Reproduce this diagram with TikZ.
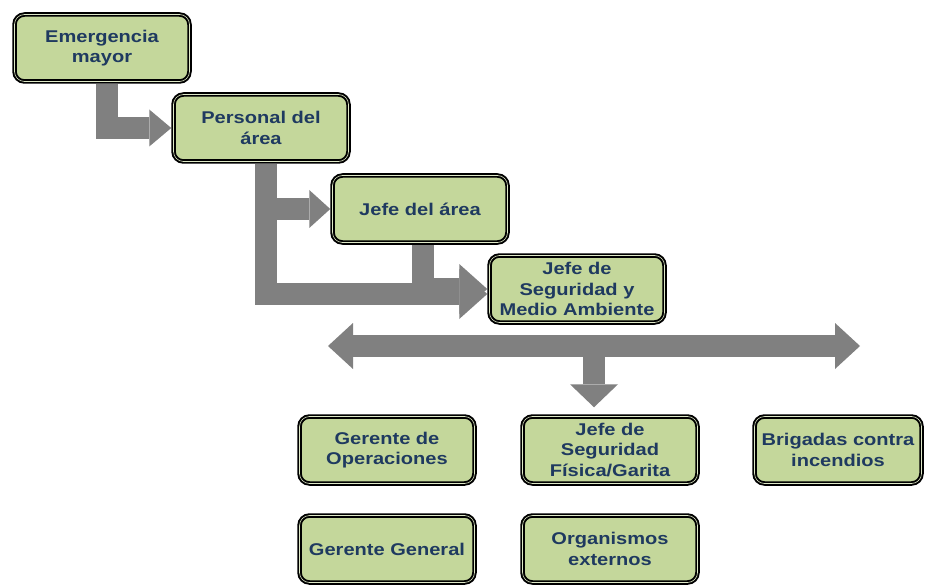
\documentclass[tikz,border=0pt]{standalone}
\usepackage{fontspec}
\setmainfont{Liberation Sans}
\newfontfamily\boxfont[FakeStretch=1.18]{Liberation Sans}
\usetikzlibrary{arrows.meta,calc,backgrounds}
\definecolor{boxfill}{HTML}{C4D79B}
\definecolor{boxtext}{HTML}{1F3A60}
\definecolor{arrgray}{HTML}{808080}
\tikzset{
  box/.style={rounded corners=10pt, fill=boxfill, draw=black, line width=4.5pt,
    minimum width=175pt, minimum height=67pt, align=center, text=boxtext,
    font=\boxfont\fontsize{17}{20.5}\selectfont\bfseries, inner sep=2pt,
    postaction={draw=boxfill!55!white, line width=0.6pt}},
  barrow/.style={draw=arrgray, line width=22pt, line join=miter},
}
\begin{document}
\begin{tikzpicture}[x=1pt,y=-1pt]
\useasboundingbox (0,0) rectangle (925,585);
\node[box] (em) at (102,48) {Emergencia\\mayor};
\node[box] (pers) at (261,128) {Personal del\\área};
\node[box] (jda) at (420,209) {Jefe del área};
\node[box] (jsma) at (577,289) {Jefe de\\Seguridad y\\Medio Ambiente};
\node[box] (gop) at (387,450) {Gerente de\\Operaciones};
\node[box] (jsf) at (610,450) {Jefe de\\Seguridad\\Física/Garita};
\node[box, minimum width=167pt] (brig) at (838,450) {Brigadas contra\\incendios};
\node[box] (gg) at (387,549) {Gerente General};
\node[box] (org) at (610,549) {Organismos\\externos};
\coordinate (dl) at (328,346);
\coordinate (dr) at (860,346);
\coordinate (dm) at (594,346);
\begin{scope}[on background layer]
\fill[white] (0,0) rectangle (925,585);
\draw[barrow, -{Triangle[width=37pt,length=22pt,line width=0pt]}] ($(em.south)+(5,0)$) |- (pers.west);
\draw[barrow, -{Triangle[width=38pt,length=21pt,line width=0pt]}] ($(pers.south)+(5,0)$) |- (jda.west);
\draw[barrow, -{Triangle[width=50pt,length=28pt,line width=0pt]}] ($(pers.south)+(5,0)$) |- ($(jsma.west)+(0,5)$);
\draw[barrow, -{Triangle[width=50pt,length=28pt,line width=0pt]}] ($(jda.south)+(3,0)$) |- (jsma.west);
\draw[barrow, {Triangle[width=46pt,length=25pt,line width=0pt]}-{Triangle[width=46pt,length=25pt,line width=0pt]}] (dl) -- (dr);
\draw[barrow, -{Triangle[width=48pt,length=23pt,line width=0pt]}, shorten >=7pt] (dm) -- (dm |- jsf.north);
\end{scope}
\end{tikzpicture}
\end{document}
